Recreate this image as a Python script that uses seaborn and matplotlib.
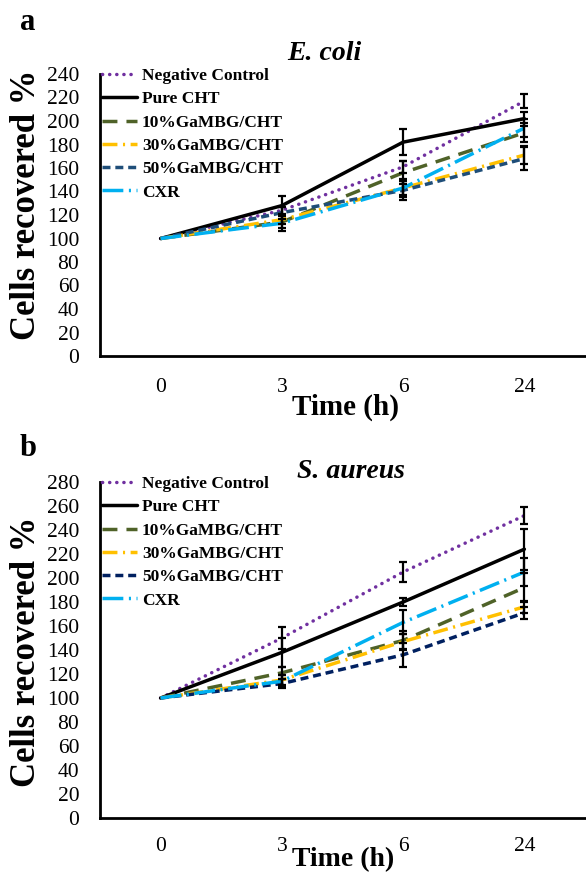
import numpy as np
import pandas as pd
import matplotlib
matplotlib.use("Agg")
import matplotlib.pyplot as plt
import seaborn as sns

# ---------------- data ----------------
times = ["0", "3", "6", "24"]
series = ["Negative Control", "Pure CHT", "10%GaMBG/CHT",
          "30%GaMBG/CHT", "50%GaMBG/CHT", "CXR"]

# E. coli (panel a)
ec_nc = [100, 124, 161, 217]
ec_cht = [100, 128, 182, 202]
ec_10 = [100, 114, 156, 190]
ec_30 = [100, 116, 143, 171]
ec_50 = [100, 122, 141, 168]
ec_cxr = [100, 113, 143, 194]
ec_nc_err = [0, 3, 5, 6]
ec_cht_err = [0, 8, 11, 6]
ec_10_err = [0, 5, 10, 8]
ec_30_err = [0, 4, 6, 8]
ec_50_err = [0, 5, 8, 10]
ec_cxr_err = [0, 7, 8, 8]

# S. aureus (panel b)
sa_nc = [100, 150, 205, 252]
sa_cht = [100, 138, 180, 224]
sa_10 = [100, 121, 148, 192]
sa_30 = [100, 115, 147, 176]
sa_50 = [100, 112, 136, 171]
sa_cxr = [100, 114, 163, 205]
sa_nc_err = [0, 9, 8, 7]
sa_cht_err = [0, 12, 3, 17]
sa_10_err = [0, 5, 8, 12]
sa_30_err = [0, 4, 6, 5]
sa_50_err = [0, 4, 10, 5]
sa_cxr_err = [0, 5, 10, 12]

ecoli_vals = [ec_nc, ec_cht, ec_10, ec_30, ec_50, ec_cxr]
ecoli_errs = [ec_nc_err, ec_cht_err, ec_10_err, ec_30_err, ec_50_err, ec_cxr_err]
aureus_vals = [sa_nc, sa_cht, sa_10, sa_30, sa_50, sa_cxr]
aureus_errs = [sa_nc_err, sa_cht_err, sa_10_err, sa_30_err, sa_50_err, sa_cxr_err]

# ---------------- style ----------------
sns.set_theme(style="white")
plt.rcParams["font.family"] = ["Liberation Serif", "DejaVu Serif"]
plt.rcParams["text.color"] = "black"
plt.rcParams["axes.labelcolor"] = "black"
plt.rcParams["xtick.color"] = "black"
plt.rcParams["ytick.color"] = "black"

colors_a = ["#7030A0", "#000000", "#4F6228", "#FFC000", "#1F4E79", "#00B0F0"]
colors_b = ["#7030A0", "#000000", "#4F6228", "#FFC000", "#002060", "#00B0F0"]
dash_list = [(0.05, 2.0), "", (4.3, 2.6), (4.3, 1.6, 0.6, 1.6),
             (2.3, 1.4), (6.0, 1.6, 0.6, 1.6)]


def make_df(vals):
    rows = []
    for name, v in zip(series, vals):
        for i, val in enumerate(v):
            rows.append({"pos": i, "value": val, "series": name})
    return pd.DataFrame(rows)


fig = plt.figure(figsize=(5.86, 8.74), dpi=100)
W, H = 586.0, 874.0

ax_a = fig.add_axes([100 / W, (H - 356) / H, 485 / W, 282 / H])
ax_b = fig.add_axes([100 / W, (H - 818) / H, 485 / W, 336 / H])


def draw(ax, vals, errs, colors, ymax, title, title_xy, pad_x, ax_h):
    df = make_df(vals)
    pal = dict(zip(series, colors))
    dashes = dict(zip(series, dash_list))
    sns.lineplot(data=df, x="pos", y="value", hue="series", style="series",
                 hue_order=series, style_order=series, palette=pal,
                 dashes=dashes, linewidth=2.5, ax=ax, legend=False, sort=False)
    lines = list(ax.lines[:len(series)])
    lines[0].set_dash_capstyle("round")
    for v, e in zip(vals, errs):
        idx = [i for i, ee in enumerate(e) if ee > 0]
        ax.errorbar([i for i in idx], [v[i] for i in idx],
                    yerr=[e[i] for i in idx], fmt="none", ecolor="black",
                    elinewidth=1.6, capsize=3, capthick=1.6, zorder=5)
    ax.set_xlim(-0.5, len(times) - 0.5)
    ax.set_ylim(0, ymax)
    ax.set_yticks(np.arange(0, ymax + 1, 20))
    ax.set_xticks(np.arange(-0.5, len(times), 1.0))
    ax.set_xticklabels([])
    ax.set_xticks(np.arange(len(times)), minor=True)
    ax.set_xticklabels(times, minor=True)
    ax.tick_params(axis="x", which="major", length=6, width=1.5,
                   direction="out", color="black")
    ax.tick_params(axis="x", which="minor", length=0, labelsize=15.5,
                   pad=pad_x, labelcolor="black")
    ax.tick_params(axis="y", length=6, width=1.5, direction="out",
                   labelsize=15.5, pad=9, color="black", labelcolor="black")
    ax.set_xlabel("")
    ax.set_ylabel("")
    for s in ["top", "right"]:
        ax.spines[s].set_visible(False)
    for s in ["left", "bottom"]:
        ax.spines[s].set_linewidth(2)
        ax.spines[s].set_color("black")
    ax.legend(lines, series, loc="upper left",
              bbox_to_anchor=(0.004, 1.0 + 6 / ax_h), frameon=False,
              handlelength=2.0, handletextpad=0.3, labelspacing=0.41,
              borderpad=0, borderaxespad=0, labelcolor="black",
              prop={"family": "Liberation Serif", "weight": "bold",
                    "size": 12.5})
    fig.text(title_xy[0] / W, 1 - title_xy[1] / H, title, ha="center",
             va="center", fontsize=20, fontweight="bold", style="italic",
             color="black")


draw(ax_a, ecoli_vals, ecoli_errs, colors_a, 240, "E. coli", (324, 53), 16, 282)
draw(ax_b, aureus_vals, aureus_errs, colors_b, 280, "S. aureus", (351, 471), 14, 336)

# axis labels and panel letters
fig.text(27 / W, 1 - 205 / H, "Cells recovered %", rotation=90, ha="center",
         va="center", fontsize=25, fontweight="bold", color="black")
fig.text(27 / W, 1 - 652 / H, "Cells recovered %", rotation=90, ha="center",
         va="center", fontsize=25, fontweight="bold", color="black")
fig.text(346 / W, 1 - 407 / H, "Time (h)", ha="center", va="center",
         fontsize=21, fontweight="bold", color="black")
fig.text(343 / W, 1 - 860 / H, "Time (h)", ha="center", va="center",
         fontsize=20, fontweight="bold", color="black")
fig.text(28 / W, 1 - 22 / H, "a", ha="center", va="center", fontsize=22,
         fontweight="bold", color="black")
fig.text(28 / W, 1 - 448 / H, "b", ha="center", va="center", fontsize=22,
         fontweight="bold", color="black")

fig.savefig("out.png", dpi=100)
